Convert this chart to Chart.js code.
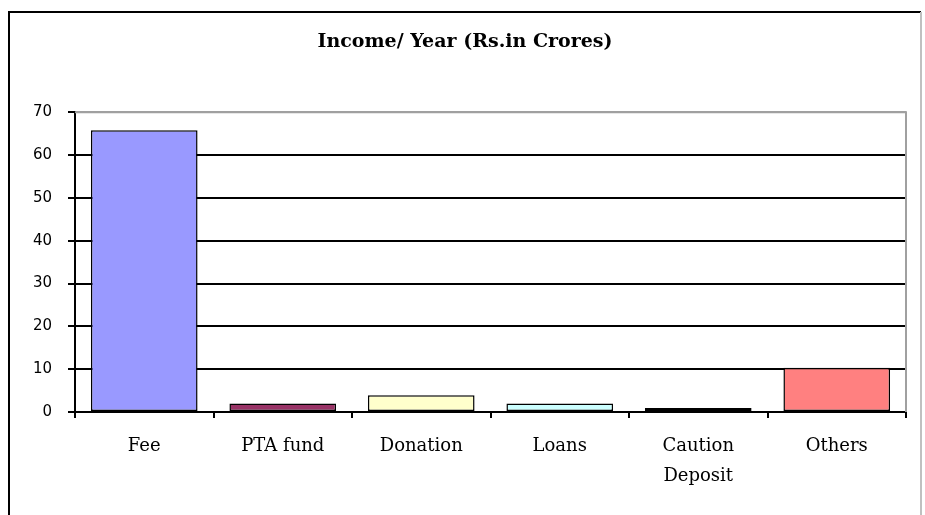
<!DOCTYPE html>
<html>
<head>
<meta charset="utf-8">
<script src="https://cdn.jsdelivr.net/npm/chart.js@4"></script>
<style>
  body { margin: 0; background: #fff; }
  #wrap { width: 925px; height: 515px; }
</style>
</head>
<body>
<div id="wrap"><canvas id="incomeChart" width="925" height="515"></canvas></div>
<script>
const categories = ['Fee', 'PTA fund', 'Donation', 'Loans', ['Caution', 'Deposit'], 'Others'];
const incomeValues = [65.8, 2, 3.9, 2, 0.95, 10.35];
const barColors = ['#9999FF', '#993366', '#FFFFCC', '#CCFFFF', '#660066', '#FF8080'];
const yTicks = [0, 10, 20, 30, 40, 50, 60, 70];

// outer frame and the grey top/right border of the plot area
const framePlugin = {
    id: 'frame',
    beforeDraw(chart) {
        const c = chart.ctx;
        c.save();
        c.fillStyle = '#fff';
        c.fillRect(0, 0, chart.width, chart.height);
        c.strokeStyle = '#000';
        c.lineWidth = 2;
        c.beginPath();
        c.moveTo(9, chart.height);
        c.lineTo(9, 12);
        c.lineTo(921, 12);
        c.stroke();
        c.strokeStyle = '#c0c0c0';
        c.beginPath();
        c.moveTo(921, 12);
        c.lineTo(921, chart.height);
        c.stroke();
        c.restore();
    },
    afterDatasetsDraw(chart) {
        const a = chart.chartArea;
        const c = chart.ctx;
        c.save();
        c.strokeStyle = '#a0a0a0';
        c.lineWidth = 2;
        c.beginPath();
        c.moveTo(a.left, a.top);
        c.lineTo(a.right, a.top);
        c.lineTo(a.right, a.bottom);
        c.stroke();
        c.restore();
    }
};

const ctx = document.getElementById('incomeChart').getContext('2d');
new Chart(ctx, {
    type: 'bar',
    data: {
        labels: categories,
        datasets: [{
            label: 'Income',
            data: incomeValues,
            backgroundColor: barColors,
            borderColor: '#000',
            borderWidth: 1.5,
            borderSkipped: false,
            barPercentage: 0.77,
            categoryPercentage: 1
        }]
    },
    options: {
        responsive: false,
        animation: false,
        layout: { padding: { left: 24, right: 19, top: 0, bottom: 0 } },
        plugins: {
            legend: { display: false },
            tooltip: { enabled: false },
            title: {
                display: true,
                text: 'Income/ Year (Rs.in Crores)',
                color: '#000',
                font: { family: 'DejaVu Serif', size: 19, weight: 'bold' },
                padding: { top: 31, bottom: 58.4 }
            }
        },
        scales: {
            y: {
                min: 0,
                max: 70,
                afterBuildTicks(scale) { scale.ticks = yTicks.map(v => ({ value: v })); },
                afterFit(scale) { scale.width = 51; },
                border: { color: '#000', width: 2 },
                grid: {
                    color: ctx => ctx.tick && ctx.tick.value === 70 ? '#a0a0a0' : '#000',
                    lineWidth: 2,
                    tickLength: 7,
                    tickColor: '#000'
                },
                ticks: {
                    color: '#000',
                    padding: 16,
                    font: { family: 'DejaVu Sans', size: 15 }
                }
            },
            x: {
                afterFit(scale) { scale.height = 103; },
                border: { color: '#000', width: 2 },
                grid: {
                    offset: true,
                    drawOnChartArea: false,
                    tickLength: 6,
                    tickColor: '#000',
                    lineWidth: 2
                },
                ticks: {
                    color: '#000',
                    padding: 13,
                    maxRotation: 0,
                    font: { family: 'DejaVu Serif', size: 18, lineHeight: 1.67 }
                }
            }
        }
    },
    plugins: [framePlugin]
});
</script>
</body>
</html>
